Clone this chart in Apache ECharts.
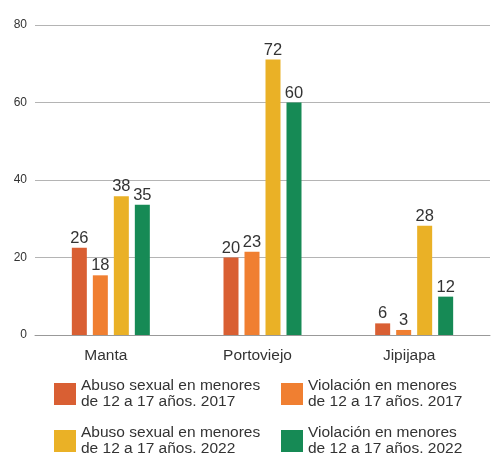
<!DOCTYPE html>
<html><head><meta charset="utf-8">
<script src="https://cdn.jsdelivr.net/npm/echarts@6/dist/echarts.min.js"></script>
<style>html,body{margin:0;padding:0;background:#fff}#c{width:495px;height:456px}</style>
</head><body><div id="c"></div>
<script>
var categories = ['Manta', 'Portoviejo', 'Jipijapa'];
var seriesNames = [
  'Abuso sexual en menores\nde 12 a 17 años. 2017',
  'Violación en menores\nde 12 a 17 años. 2017',
  'Abuso sexual en menores\nde 12 a 17 años. 2022',
  'Violación en menores\nde 12 a 17 años. 2022'
];
// bar heights as drawn in the reference
var abuso2017 = [22.5, 20, 3];
var violacion2017 = [15.4, 21.5, 1.3];
var abuso2022 = [35.8, 71.1, 28.2];
var violacion2022 = [33.6, 60, 9.9];
// value labels as printed in the reference
var abuso2017Labels = [26, 20, 6];
var violacion2017Labels = [18, 23, 3];
var abuso2022Labels = [38, 72, 28];
var violacion2022Labels = [35, 60, 12];
var yTicks = [0, 20, 40, 60, 80];

var colors = ['#D95F33', '#F07F31', '#EAB126', '#168A55'];
var values = [abuso2017, violacion2017, abuso2022, violacion2022];
var labels = [abuso2017Labels, violacion2017Labels, abuso2022Labels, violacion2022Labels];
var font = 'Liberation Sans, Arial, Helvetica, sans-serif';

var chart = echarts.init(document.getElementById('c'), null, {renderer: 'canvas'});
var series = values.map(function (v, i) {
  return {
    name: seriesNames[i],
    type: 'bar',
    data: v,
    barWidth: 15,
    barGap: '40%',
    itemStyle: {color: colors[i]},
    label: {
      show: true, position: 'top', distance: 1,
      color: '#333', fontSize: 16.5, fontFamily: font,
      formatter: function (p) { return labels[i][p.dataIndex]; }
    }
  };
});
var legendPos = [[54, 378], [281, 378], [54, 425], [281, 425]];
var legends = seriesNames.map(function (n, i) {
  return {
    data: [n], left: legendPos[i][0], top: legendPos[i][1],
    itemWidth: 22, itemHeight: 22, icon: 'rect', selectedMode: false,
    padding: 0, itemGap: 0,
    textStyle: {color: '#333', fontSize: 15.5, fontFamily: font, lineHeight: 16}
  };
});
chart.setOption({
  animation: false,
  color: colors,
  grid: {left: 35, right: 5, top: 25, bottom: 121},
  legend: legends,
  xAxis: {
    type: 'category', data: categories,
    axisTick: {show: false},
    axisLine: {lineStyle: {color: '#999'}},
    axisLabel: {color: '#333', fontSize: 15.5, fontFamily: font, margin: 13, padding: [0, 10, 0, 0]}
  },
  yAxis: {
    type: 'value', min: yTicks[0], max: yTicks[yTicks.length - 1], interval: 20,
    axisLine: {show: false}, axisTick: {show: false},
    splitLine: {lineStyle: {color: '#b4b4b4'}},
    axisLabel: {color: '#333', fontSize: 12, fontFamily: font, margin: 8}
  },
  series: series
});
</script></body></html>
